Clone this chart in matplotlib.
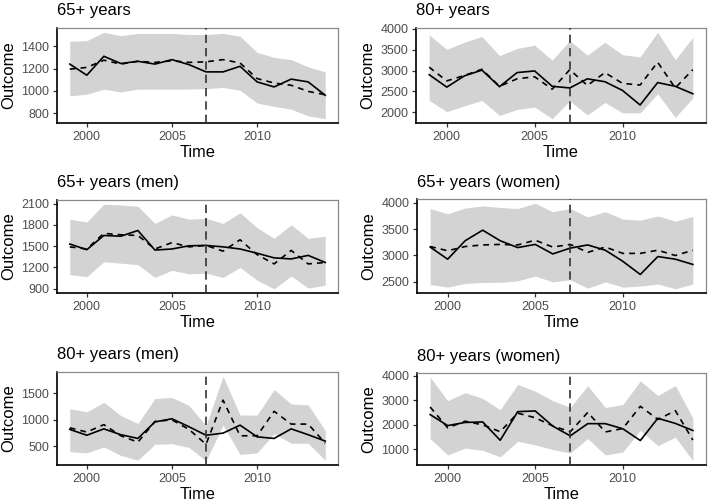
import matplotlib
matplotlib.use("Agg")
import matplotlib.pyplot as plt
import numpy as np

plt.rcParams['font.family'] = ['Liberation Sans', 'DejaVu Sans']

years = list(range(1999, 2015))
intervention_year = 2007

titles = ["65+ years", "80+ years", "65+ years (men)", "65+ years (women)",
          "80+ years (men)", "80+ years (women)"]

observed = [
    [1240, 1140, 1310, 1245, 1265, 1240, 1280, 1235, 1170, 1170, 1220, 1080, 1035, 1105, 1080, 960],
    [2900, 2600, 2870, 3010, 2610, 2950, 2990, 2620, 2580, 2800, 2730, 2520, 2170, 2710, 2620, 2440],
    [1530, 1450, 1650, 1640, 1720, 1445, 1460, 1505, 1510, 1490, 1460, 1400, 1335, 1320, 1370, 1270],
    [3160, 2930, 3280, 3480, 3280, 3150, 3210, 3030, 3140, 3200, 3100, 2890, 2640, 2980, 2930, 2830],
    [820, 710, 830, 720, 650, 960, 1020, 870, 710, 750, 900, 680, 650, 830, 720, 600],
    [2420, 1970, 2100, 2120, 1370, 2540, 2570, 1950, 1550, 2050, 2050, 1840, 1360, 2270, 2060, 1770],
]

predicted = [
    [1195, 1210, 1275, 1240, 1265, 1255, 1270, 1255, 1260, 1280, 1250, 1110, 1070, 1050, 995, 965],
    [3080, 2750, 2880, 3030, 2620, 2800, 2850, 2550, 3020, 2640, 2950, 2690, 2650, 3200, 2580, 3020],
    [1490, 1460, 1680, 1660, 1650, 1460, 1550, 1490, 1510, 1430, 1590, 1380, 1250, 1440, 1250, 1270],
    [3170, 3090, 3170, 3200, 3210, 3200, 3290, 3160, 3210, 3060, 3160, 3040, 3040, 3100, 3000, 3100],
    [850, 770, 910, 700, 580, 970, 1000, 820, 540, 1370, 700, 700, 1160, 920, 920, 560],
    [2730, 1880, 2150, 2000, 1720, 2480, 2290, 1960, 1720, 2510, 1710, 1850, 2760, 2220, 2580, 1380],
]

upper = [
    [1445, 1450, 1525, 1495, 1515, 1515, 1515, 1505, 1505, 1515, 1490, 1345, 1300, 1280, 1215, 1170],
    [3860, 3510, 3680, 3820, 3360, 3530, 3610, 3250, 3720, 3370, 3680, 3380, 3330, 3920, 3260, 3800],
    [1880, 1840, 2090, 2080, 2060, 1820, 1940, 1880, 1890, 1820, 1970, 1760, 1610, 1800, 1610, 1640],
    [3890, 3790, 3900, 3940, 3910, 3890, 3990, 3830, 3890, 3730, 3830, 3690, 3670, 3750, 3650, 3740],
    [1210, 1150, 1330, 1080, 930, 1400, 1420, 1270, 890, 1820, 1090, 1090, 1570, 1300, 1280, 800],
    [3950, 2990, 3320, 3080, 2620, 3650, 3380, 2990, 2720, 3600, 2710, 2830, 3800, 3200, 3610, 2280],
]

lower = [
    [955, 970, 1015, 990, 1015, 1015, 1015, 1015, 1020, 1030, 1005, 890, 860, 835, 775, 750],
    [2280, 2010, 2150, 2280, 1920, 2060, 2120, 1840, 2270, 1930, 2230, 1980, 1980, 2440, 1870, 2340],
    [1100, 1070, 1280, 1260, 1240, 1060, 1160, 1110, 1120, 1060, 1200, 1020, 900, 1080, 910, 950],
    [2450, 2400, 2470, 2490, 2490, 2520, 2610, 2500, 2540, 2380, 2500, 2400, 2420, 2460, 2370, 2460],
    [400, 380, 490, 330, 240, 540, 550, 480, 230, 900, 350, 380, 740, 560, 560, 240],
    [1440, 770, 1050, 960, 690, 1330, 1180, 990, 850, 1440, 770, 890, 1780, 1150, 1500, 530],
]

yticks = [
    [800, 1000, 1200, 1400],
    [2000, 2500, 3000, 3500, 4000],
    [900, 1200, 1500, 1800, 2100],
    [2500, 3000, 3500, 4000],
    [500, 1000, 1500],
    [1000, 2000, 3000, 4000],
]
xticks = [2000, 2005, 2010]

W, H = 709, 504
fig = plt.figure(figsize=(W / 100, H / 100), dpi=100)

# panel boxes in pixels: (left, top, right, bottom)
boxes = [
    (57, 28, 338, 123), (416, 28, 706, 123),
    (57, 200, 338, 293), (417, 199, 706, 293),
    (57, 372, 338, 465), (417, 373, 706, 465),
]

for i, (l, t, r, b) in enumerate(boxes):
    ax = fig.add_axes([l / W, 1 - b / H, (r - l) / W, (b - t) / H])
    ax.fill_between(years, lower[i], upper[i], color='#d3d3d3', linewidth=0, zorder=1)
    ax.plot(years, observed[i], color='black', lw=1.2, zorder=3)
    ax.plot(years, predicted[i], color='black', lw=1.2, ls=(0, (3.5, 3)), zorder=3)
    ax.axvline(intervention_year, color='#333333', lw=1.2, ls=(0, (5, 3)), zorder=4)
    lo = min(lower[i] + observed[i] + predicted[i])
    hi = max(upper[i] + observed[i] + predicted[i])
    pad = (hi - lo) * 0.05
    ax.set_ylim(lo - pad, hi + pad)
    ax.set_xlim(1999 - 0.75, 2014 + 0.75)
    ax.set_xticks(xticks)
    ax.set_yticks(yticks[i])
    ax.tick_params(axis='both', colors='#333333', labelcolor='#4d4d4d',
                   labelsize=9, length=3, width=0.9, pad=2.5)
    for s in ['top', 'right']:
        ax.spines[s].set_color('#8a8a8a')
        ax.spines[s].set_linewidth(0.9)
    for s in ['left', 'bottom']:
        ax.spines[s].set_color('black')
        ax.spines[s].set_linewidth(1.2)
    ax.set_xlabel('Time', fontsize=11.8, labelpad=1.5)
    ax.set_ylabel('Outcome', fontsize=12, labelpad=4)
    ax.set_title(titles[i], fontsize=12, loc='left', pad=9)

fig.savefig('out.png', dpi=100, facecolor='white')
